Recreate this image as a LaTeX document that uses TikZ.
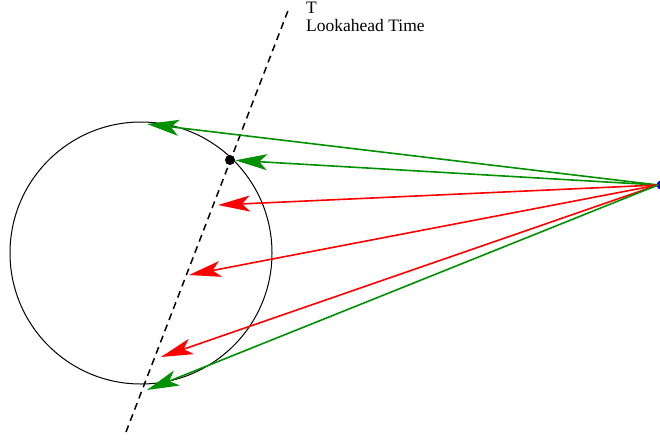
\documentclass[tikz,border=0pt]{standalone}
\usepackage{fontspec}
\setmainfont{Liberation Serif}
\usetikzlibrary{arrows.meta}
\definecolor{fgreen}{RGB}{0,144,0}
\definecolor{fred}{RGB}{255,0,0}
\definecolor{fblue}{RGB}{0,0,255}
\tikzset{
  ray/.style={line width=1.6pt, -{Stealth[length=32pt, width=16pt, inset=8pt]}},
  greenray/.style={ray, draw=fgreen, fill=fgreen},
  redray/.style={ray, draw=fred, fill=fred},
  blackdot/.style={circle, fill=black, inner sep=0pt, minimum size=10pt},
  bluedot/.style={circle, fill=fblue, inner sep=0pt, minimum size=9pt},
  bigcircle/.style={circle, draw=black, line width=1pt, inner sep=0pt, minimum size=262pt},
  lookahead/.style={draw=black, line width=1.5pt, dash pattern=on 7pt off 5pt},
  label/.style={anchor=north west, align=left, inner sep=0pt, font=\fontsize{17.5}{18.5}\selectfont}
}
\begin{document}
\begin{tikzpicture}[x=1pt, y=-1pt]
\useasboundingbox (0,0) rectangle (660,439);
\node[bigcircle] (c) at (141,253) {};
\coordinate (dtop) at (289,8);
\coordinate (dbot) at (126,432);
\draw[lookahead] (dbot) -- (dtop);
\node[blackdot] (dot) at (230,160) {};
\node[bluedot] (src) at (661,185) {};
\coordinate (o) at (658,185);
\coordinate (t1) at (147,124);
\coordinate (t3) at (218,205);
\coordinate (t4) at (189,275);
\coordinate (t5) at (161,357);
\coordinate (t6) at (147,390);
\draw[greenray] (o) -- (t1);
\draw[greenray] (o) -- (dot);
\draw[redray] (o) -- (t3);
\draw[redray] (o) -- (t4);
\draw[redray] (o) -- (t5);
\draw[greenray] (o) -- (t6);
\node[label] (txt) at (306,1.5) {T\\Lookahead Time};
\end{tikzpicture}
\end{document}
